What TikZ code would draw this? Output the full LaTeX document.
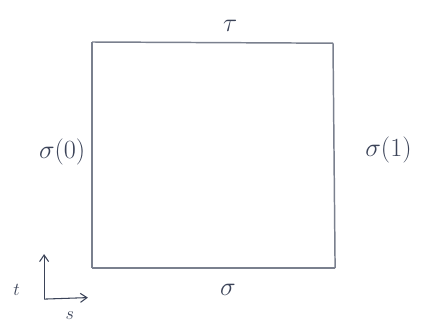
\documentclass[tikz,border=0pt]{standalone}
\usepackage{tikz}
\usetikzlibrary{arrows.meta,positioning}
\usepackage{xcolor}
\definecolor{pencil}{HTML}{7A808E}
\definecolor{ink}{HTML}{3B4358}
\tikzset{
  edge/.style={draw=pencil, line width=1.4pt},
  lbl/.style={text=ink, font=\fontsize{24}{28}\selectfont, inner sep=1pt},
  axis/.style={-{Straight Barb[length=2.2mm,width=3mm]}, draw=ink, line width=1pt}
}
\begin{document}
\begin{tikzpicture}
  \useasboundingbox (0,0) rectangle (14.2,10.77);
  % corners of the square
  \coordinate (sw) at (3.07,1.83);
  \coordinate (se) at (11.17,1.83);
  \coordinate (ne) at (11.1,9.33);
  \coordinate (nw) at (3.07,9.37);
  \draw[edge] (sw) -- (se);
  \draw[edge] (se) -- (ne);
  \draw[edge] (ne) -- (nw);
  \draw[edge] (nw) -- (sw);
  % side labels
  \node[lbl] (top) at (7.67,9.9) {$\tau$};
  \node[lbl] (bottom) at (7.6,1.1) {$\sigma$};
  \node[lbl] (left) at (2.07,5.7) {$\sigma(0)$};
  \node[lbl] (right) at (12.95,5.77) {$\sigma(1)$};
  % axes
  \coordinate (origin) at (1.47,0.8);
  \coordinate (tend) at (1.47,2.3);
  \coordinate (send) at (2.93,0.85);
  \draw[axis] (origin) -- (tend);
  \draw[axis] (origin) -- (send);
  \node[lbl, font=\fontsize{18}{22}\selectfont] (tlbl) at (0.55,1.1) {$t$};
  \node[lbl, font=\fontsize{18}{22}\selectfont] (slbl) at (2.33,0.25) {$s$};
\end{tikzpicture}
\end{document}
